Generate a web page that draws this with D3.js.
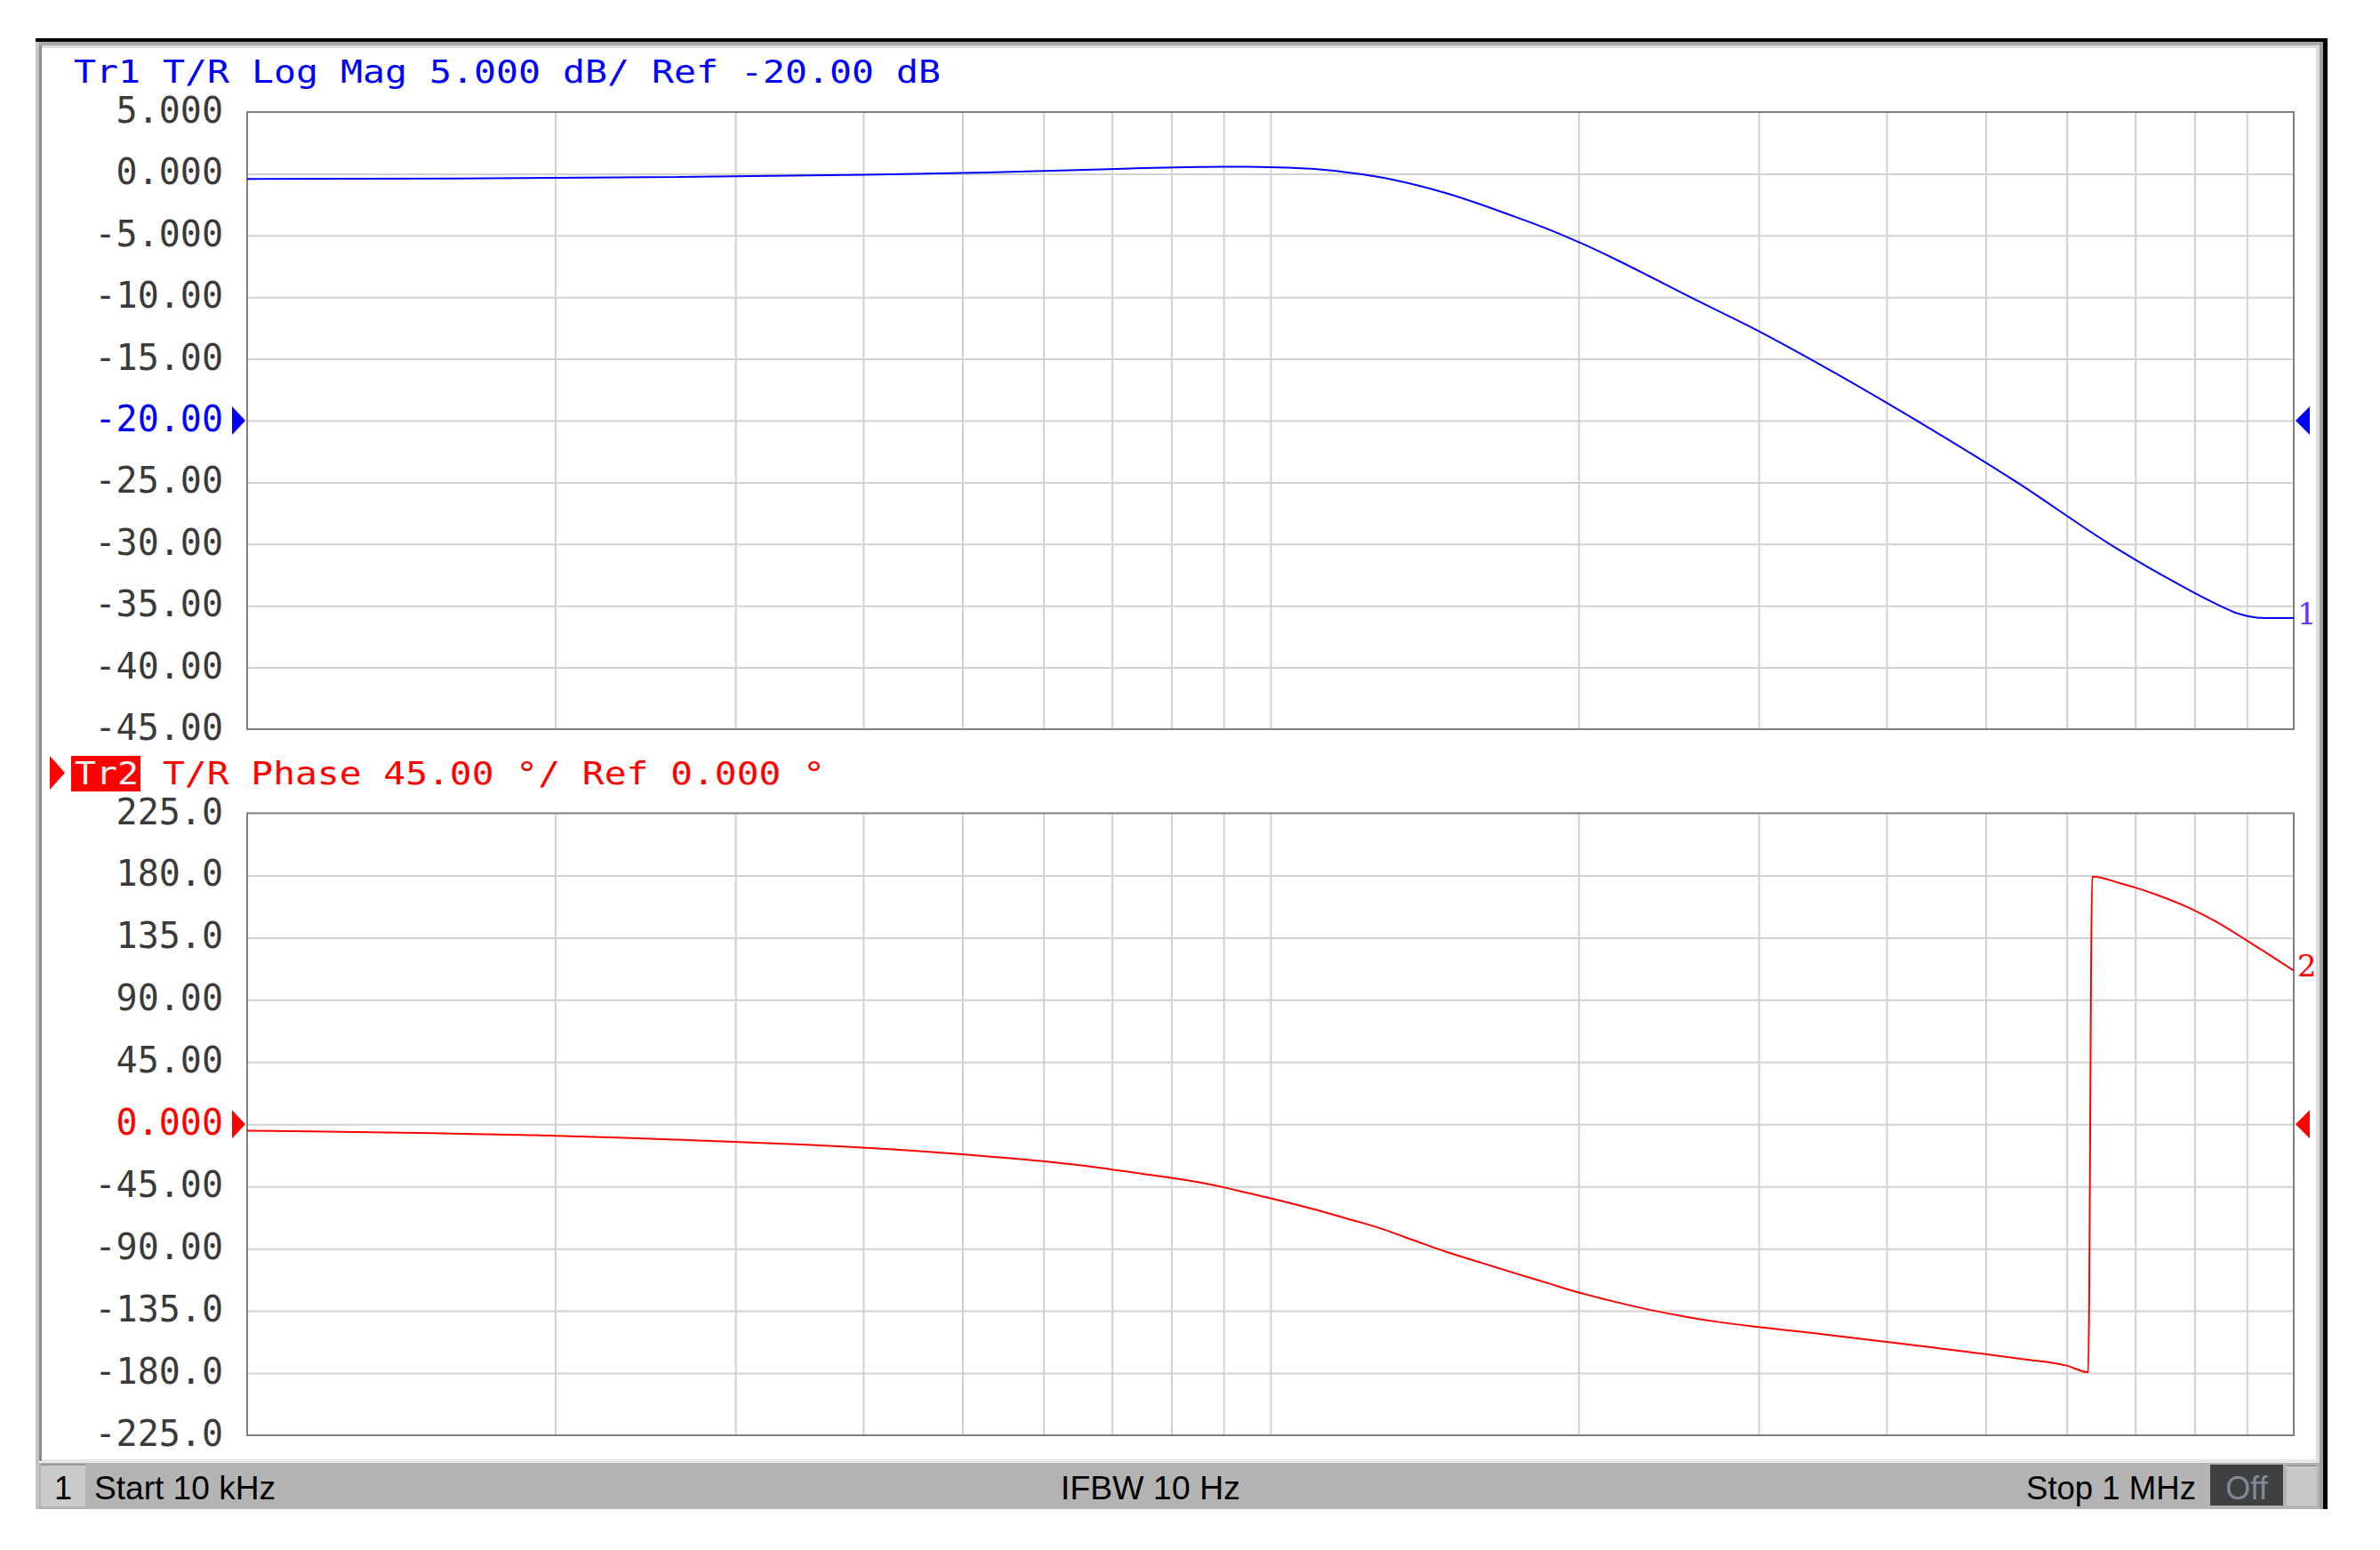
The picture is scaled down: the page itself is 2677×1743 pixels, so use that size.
<!DOCTYPE html>
<html>
<head>
<meta charset="utf-8">
<script src="https://cdn.jsdelivr.net/npm/d3@7"></script>
<style>
  html, body { margin: 0; padding: 0; background: #ffffff; }
  svg { display: block; }
</style>
</head>
<body>
<svg id="chart" width="2677" height="1743"></svg>
<script>
// ---------------- DATA ----------------
// Trace 1: T/R Log Mag (dB) vs frequency (Hz)
const magFreq = [10000, 16000, 24600, 40200, 52600, 63500, 75000, 85000, 90000, 94400, 100000, 109800, 118500, 127900,
  137900, 148800, 160600, 173200, 186900, 201600, 217500, 234700, 257000, 299700, 337900, 430800, 536900, 664000,
  743900, 846800, 879400, 920300, 948500, 1000000];
const magDb = [-0.42, -0.38, -0.28, -0.08, 0.10, 0.28, 0.46, 0.55, 0.57, 0.57, 0.53, 0.40, 0.12, -0.27,
  -0.85, -1.59, -2.49, -3.47, -4.50, -5.66, -6.94, -8.31, -9.98, -12.73, -15.07, -20.13, -25.02, -30.11,
  -32.53, -35.00, -35.60, -35.95, -36.00, -36.00];

// Trace 2: T/R Phase (deg) vs frequency (Hz)
const phFreq = [10000, 11500, 15200, 19400, 23400, 27200, 31000, 34800, 38500, 42000, 45400, 48700, 55000, 61300,
  66900, 70000, 75000, 80000, 85200, 90000, 94400, 100000, 109800, 118500, 127900, 137900, 148800, 160600, 173200,
  186900, 199200, 217500, 234700, 253100, 273200, 299700, 343000, 400100, 444100, 500000, 540700, 600000, 629700,
  635400, 679200, 700000, 732800, 766900, 800000, 840300, 898300, 948500, 1000000];
const phDeg = [-4.6, -5.1, -6.4, -8.1, -9.8, -11.5, -13.2, -14.7, -16.2, -17.9, -19.4, -21.1, -24.3, -27.5,
  -30.7, -32.8, -35.8, -38.8, -42.0, -45.6, -49.2, -53.5, -61.1, -68.0, -75.2, -83.8, -92.5, -100.1, -107.7,
  -115.1, -121.3, -128.6, -134.2, -138.9, -142.9, -146.7, -151.5, -157.4, -161.5, -166.3, -169.7, -174.6, -179.4,
  179.2, 174.0, 171.2, 166.3, 160.7, 154.7, 146.4, 133.3, 122.2, 111.2];

const magTicks = [5, 0, -5, -10, -15, -20, -25, -30, -35, -40, -45];
const magTickLabels = ["5.000", "0.000", "-5.000", "-10.00", "-15.00", "-20.00", "-25.00", "-30.00", "-35.00", "-40.00", "-45.00"];
const phTicks = [225, 180, 135, 90, 45, 0, -45, -90, -135, -180, -225];
const phTickLabels = ["225.0", "180.0", "135.0", "90.00", "45.00", "0.000", "-45.00", "-90.00", "-135.0", "-180.0", "-225.0"];
const freqGrid = [20000, 30000, 40000, 50000, 60000, 70000, 80000, 90000, 100000,
  200000, 300000, 400000, 500000, 600000, 700000, 800000, 900000];

const header1 = "Tr1 T/R Log Mag 5.000 dB/ Ref -20.00 dB";
const header2Tag = "Tr2";
const header2 = "T/R Phase 45.00 °/ Ref 0.000 °";
const statusStart = "Start 10 kHz";
const statusIfbw = "IFBW 10 Hz";
const statusStop = "Stop 1 MHz";
const statusOff = "Off";
const channelNum = "1";
const magRef = -20, phRef = 0;

// ---------------- LAYOUT ----------------
const svg = d3.select("#chart");
const plotL = 278, plotR = 2580;
const magTop = 126, magBot = 820;
const phTop = 914.5, phBot = 1614;

const x = d3.scaleLog().domain([1e4, 1e6]).range([plotL, plotR]);
const yMag = d3.scaleLinear().domain([-45, 5]).range([magBot, magTop]);
const yPh = d3.scaleLinear().domain([-225, 225]).range([phBot, phTop]);

const BLUE = "#0000ff", RED = "#ff0000", GRID = "#d2d2d2", FRAME = "#7f7f7f";

// ---------------- WINDOW FRAME ----------------
svg.append("rect").attr("x", 0).attr("y", 0).attr("width", 2677).attr("height", 1743).attr("fill", "#ffffff");
svg.append("rect").attr("x", 40).attr("y", 43).attr("width", 2578).attr("height", 4).attr("fill", "#000");
svg.append("rect").attr("x", 40).attr("y", 47).attr("width", 2573).attr("height", 4).attr("fill", "#a8a8a8");
svg.append("rect").attr("x", 44).attr("y", 51).attr("width", 2565).attr("height", 3).attr("fill", "#dcdcdc");
svg.append("rect").attr("x", 40).attr("y", 47).attr("width", 4).attr("height", 1650).attr("fill", "#c4c4c4");
svg.append("rect").attr("x", 44).attr("y", 51).attr("width", 3).attr("height", 1592).attr("fill", "#8c8c8c");
svg.append("rect").attr("x", 2605).attr("y", 51).attr("width", 4).attr("height", 1646).attr("fill", "#dcdcdc");
svg.append("rect").attr("x", 2609).attr("y", 47).attr("width", 4).attr("height", 1650).attr("fill", "#a0a0a0");
svg.append("rect").attr("x", 2613).attr("y", 43).attr("width", 5).attr("height", 1654).attr("fill", "#000");

// ---------------- PANELS ----------------
function drawPanel(cfg) {
  const { yScale, top, bot, ticks, labels, refVal, color, clipId, freqs, vals, endLabel, endColor } = cfg;
  const g = svg.append("g");
  const xAxis = d3.axisBottom(x).tickValues(freqGrid).tickSize(-(bot - top)).tickFormat("");
  const gx = g.append("g").attr("transform", `translate(0,${bot})`).call(xAxis);
  gx.select(".domain").remove();
  gx.selectAll(".tick line").attr("stroke", GRID).attr("stroke-width", 2);
  const yAxis = d3.axisLeft(yScale).tickValues(ticks.slice(1, -1)).tickSize(-(plotR - plotL)).tickFormat("");
  const gy = g.append("g").attr("transform", `translate(${plotL},0)`).call(yAxis);
  gy.select(".domain").remove();
  gy.selectAll(".tick line").attr("stroke", GRID).attr("stroke-width", 2);
  g.append("rect").attr("x", plotL).attr("y", top).attr("width", plotR - plotL).attr("height", bot - top)
    .attr("fill", "none").attr("stroke", FRAME).attr("stroke-width", 2);
  g.selectAll("text.tick-label").data(ticks).enter().append("text")
    .attr("class", "tick-label")
    .attr("x", 251)
    .attr("y", d => yScale(d) - 2)
    .attr("text-anchor", "end")
    .attr("dominant-baseline", "central")
    .attr("font-family", "DejaVu Sans Mono, monospace")
    .attr("font-size", 40)
    .attr("fill", d => d === refVal ? color : "#3a3a3a")
    .text((d, i) => labels[i]);
  const ry = yScale(refVal);
  g.append("path").attr("d", `M261,${ry - 16} L276,${ry} L261,${ry + 16} Z`).attr("fill", color);
  g.append("path").attr("d", `M2598,${ry - 16} L2582,${ry} L2598,${ry + 16} Z`).attr("fill", color);
  svg.append("clipPath").attr("id", clipId).append("rect")
    .attr("x", plotL).attr("y", top).attr("width", plotR - plotL).attr("height", bot - top);
  const data = freqs.map((f, i) => [f, vals[i]]);
  const line = d3.line().x(d => x(d[0])).y(d => yScale(d[1])).curve(d3.curveMonotoneX);
  g.append("path").datum(data).attr("d", line).attr("fill", "none")
    .attr("stroke", color).attr("stroke-width", 2).attr("stroke-linejoin", "round")
    .attr("clip-path", `url(#${clipId})`);
  g.append("text").attr("x", 2584).attr("y", yScale(vals[vals.length - 1]) - 5).attr("dominant-baseline", "central")
    .attr("font-family", "DejaVu Serif, serif").attr("font-size", 34)
    .attr("fill", endColor).text(endLabel);
}

drawPanel({ yScale: yMag, top: magTop, bot: magBot, ticks: magTicks, labels: magTickLabels, refVal: magRef,
  color: BLUE, clipId: "clipMag", freqs: magFreq, vals: magDb, endLabel: "1", endColor: "#6a2cff" });
drawPanel({ yScale: yPh, top: phTop, bot: phBot, ticks: phTicks, labels: phTickLabels, refVal: phRef,
  color: RED, clipId: "clipPh", freqs: phFreq, vals: phDeg, endLabel: "2", endColor: RED });

// ---------------- HEADERS ----------------
svg.append("text").attr("x", 83).attr("y", 93)
  .attr("font-family", "DejaVu Sans Mono, monospace").attr("font-size", 36)
  .attr("textLength", 975).attr("lengthAdjust", "spacingAndGlyphs")
  .attr("fill", BLUE).text(header1);

svg.append("path").attr("d", "M56,850 L73,869 L56,888 Z").attr("fill", RED);
svg.append("rect").attr("x", 80).attr("y", 850).attr("width", 78).attr("height", 40).attr("fill", RED);
svg.append("text").attr("x", 84).attr("y", 882)
  .attr("font-family", "DejaVu Sans Mono, monospace").attr("font-size", 36)
  .attr("textLength", 72).attr("lengthAdjust", "spacingAndGlyphs")
  .attr("fill", "#f2f2f2").text(header2Tag);
svg.append("text").attr("x", 183).attr("y", 882)
  .attr("font-family", "DejaVu Sans Mono, monospace").attr("font-size", 36)
  .attr("textLength", 745).attr("lengthAdjust", "spacingAndGlyphs")
  .attr("fill", RED).text(header2);

// ---------------- STATUS BAR ----------------
svg.append("rect").attr("x", 47).attr("y", 1641).attr("width", 2558).attr("height", 4).attr("fill", "#e8e8e8");
svg.append("rect").attr("x", 44).attr("y", 1645).attr("width", 2565).attr("height", 52).attr("fill", "#b4b4b4");
svg.append("rect").attr("x", 46).attr("y", 1646).attr("width", 50).attr("height", 48).attr("fill", "#cbcbcb");
svg.append("rect").attr("x", 46).attr("y", 1646).attr("width", 50).attr("height", 2).attr("fill", "#9a9a9a");
svg.append("text").attr("x", 71).attr("y", 1686).attr("text-anchor", "middle")
  .attr("font-family", "Liberation Sans, sans-serif").attr("font-size", 36).attr("fill", "#000").text(channelNum);
svg.append("text").attr("x", 106).attr("y", 1686)
  .attr("font-family", "Liberation Sans, sans-serif").attr("font-size", 36)
  .attr("textLength", 204).attr("lengthAdjust", "spacingAndGlyphs").attr("fill", "#000").text(statusStart);
svg.append("text").attr("x", 1193).attr("y", 1686)
  .attr("font-family", "Liberation Sans, sans-serif").attr("font-size", 36)
  .attr("textLength", 202).attr("lengthAdjust", "spacingAndGlyphs").attr("fill", "#000").text(statusIfbw);
svg.append("text").attr("x", 2279).attr("y", 1686)
  .attr("font-family", "Liberation Sans, sans-serif").attr("font-size", 36)
  .attr("textLength", 191).attr("lengthAdjust", "spacingAndGlyphs").attr("fill", "#000").text(statusStop);
svg.append("rect").attr("x", 2486).attr("y", 1647).attr("width", 82).attr("height", 46).attr("fill", "#404040");
svg.append("text").attr("x", 2527).attr("y", 1686).attr("text-anchor", "middle")
  .attr("font-family", "Liberation Sans, sans-serif").attr("font-size", 36).attr("fill", "#7f8a96").text(statusOff);
svg.append("rect").attr("x", 2572).attr("y", 1647).attr("width", 34).attr("height", 46).attr("fill", "#c8c8c8");
svg.append("rect").attr("x", 2572).attr("y", 1647).attr("width", 34).attr("height", 2).attr("fill", "#9a9a9a");
</script>
</body>
</html>
